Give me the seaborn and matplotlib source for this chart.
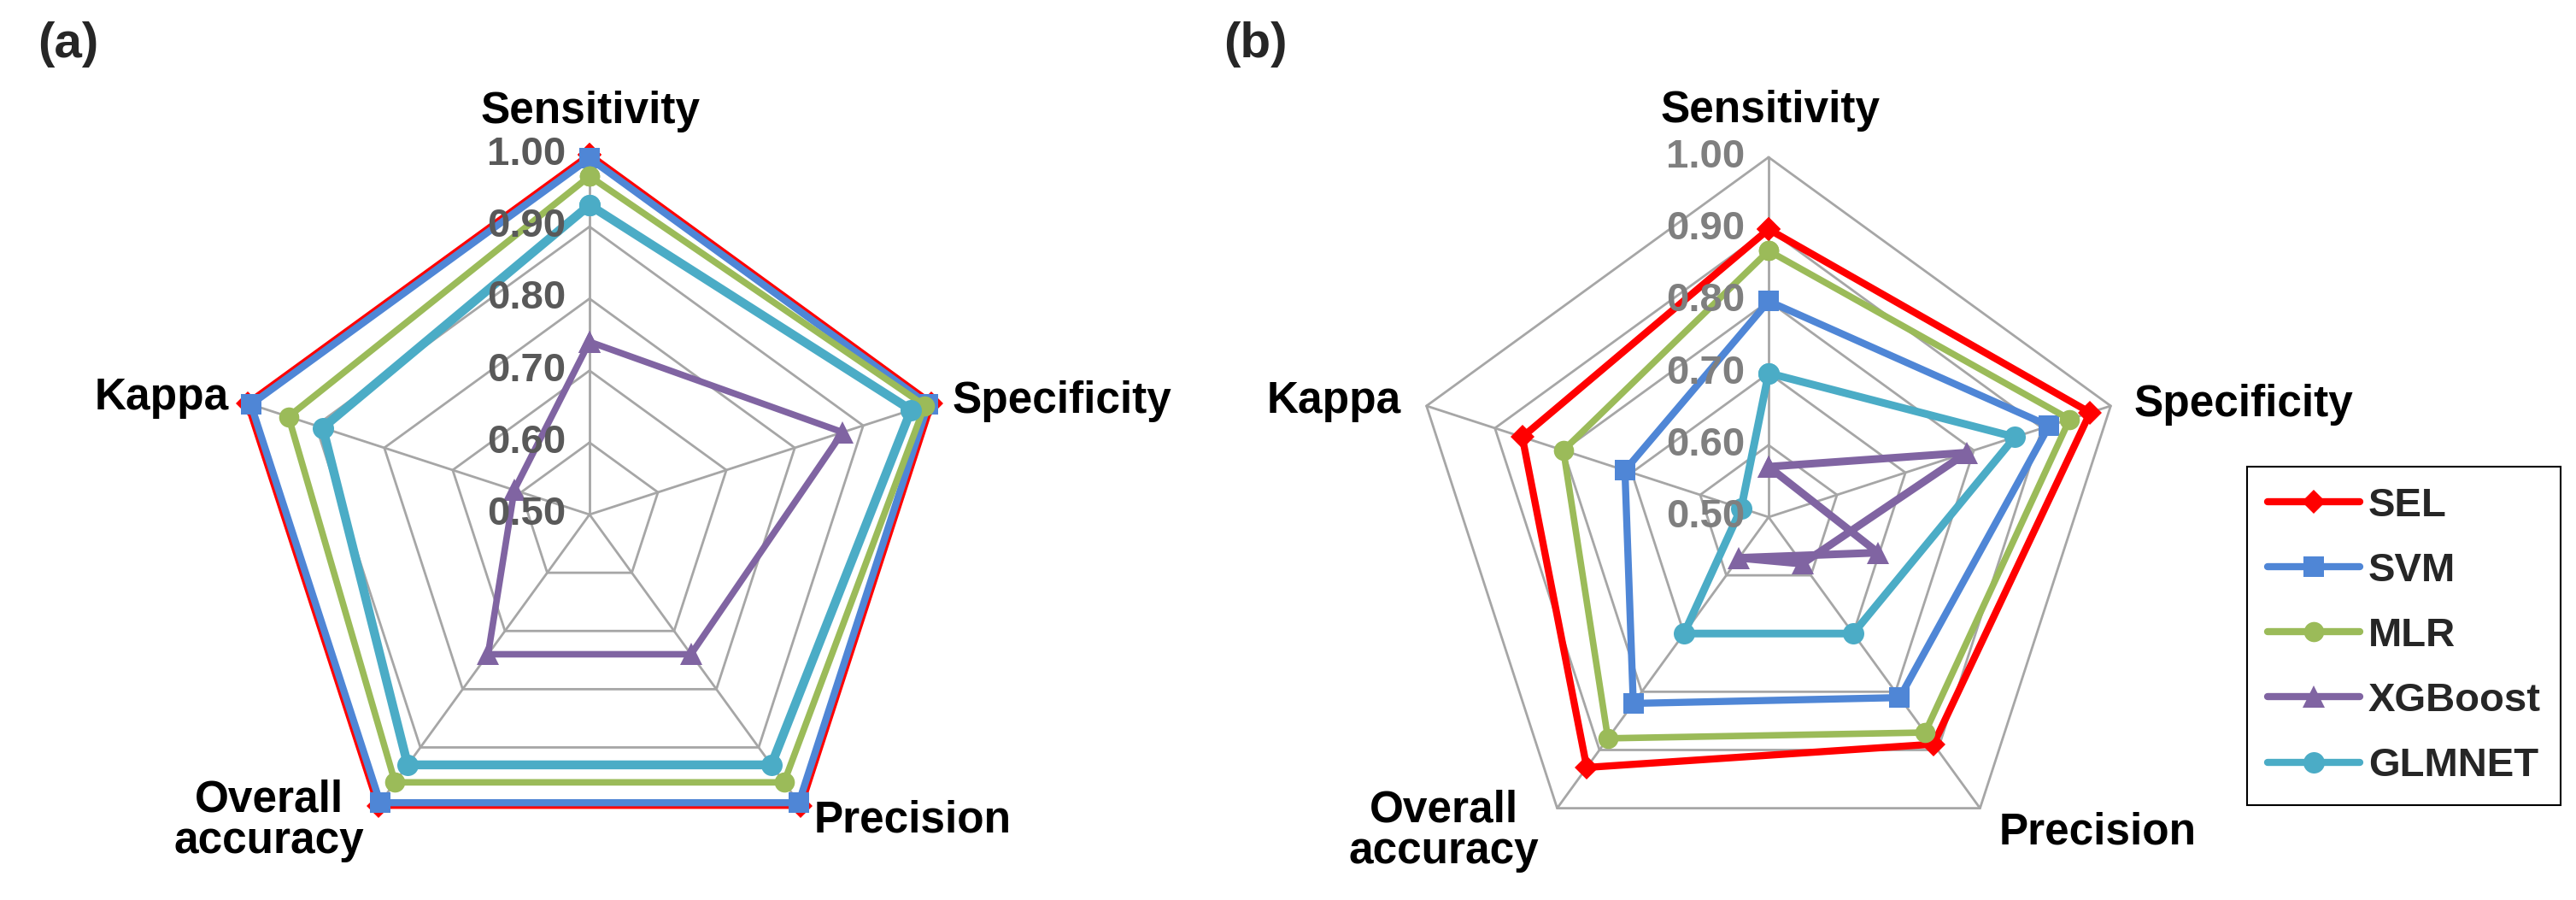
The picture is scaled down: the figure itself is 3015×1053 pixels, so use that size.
import numpy as np
import matplotlib
matplotlib.use("Agg")
import matplotlib.pyplot as plt
import seaborn as sns
from matplotlib.lines import Line2D

# ---------------- data ----------------
categories = ["Sensitivity", "Specificity", "Precision", "Overall\naccuracy", "Kappa"]
models = ["SEL", "SVM", "MLR", "XGBoost", "GLMNET"]
tick_values = [0.50, 0.60, 0.70, 0.80, 0.90, 1.00]
tick_labels = ["0.50", "0.60", "0.70", "0.80", "0.90", "1.00"]

# panel (a)  order: Sensitivity, Specificity, Precision, Overall accuracy, Kappa
a_SEL = [1.00, 1.00, 1.00, 1.00, 1.00]
a_SVM = [0.995, 0.995, 0.995, 0.995, 0.995]
a_MLR = [0.97, 0.99, 0.96, 0.96, 0.94]
a_XGB = [0.74, 0.87, 0.74, 0.74, 0.61]
a_GLM = [0.93, 0.97, 0.93, 0.93, 0.89]

# panel (b)
b_SEL = [0.90, 0.97, 0.89, 0.93, 0.86]
b_SVM = [0.80, 0.91, 0.81, 0.82, 0.71]
b_MLR = [0.87, 0.94, 0.87, 0.88, 0.80]
b_XGB = [0.57, 0.79, 0.58, 0.57, 0.34]
b_GLM = [0.70, 0.86, 0.70, 0.70, 0.54]

# ---------------- style ----------------
sns.set_theme(style="white")
plt.rcParams["font.family"] = ["Liberation Sans", "DejaVu Sans"]

colors = {"SEL": "#FF0000", "SVM": "#4F86D6", "MLR": "#9BBB59",
          "XGBoost": "#8064A2", "GLMNET": "#4BACC6"}
markers = {"SEL": "D", "SVM": "s", "MLR": "o", "XGBoost": "^", "GLMNET": "o"}
msizes = {"SEL": 14, "SVM": 17, "MLR": 17, "XGBoost": 19, "GLMNET": 18}
grid_color = "#A6A6A6"

W, H = 3015, 1053
fig = plt.figure(figsize=(W / 100, H / 100), dpi=100)
fig.patch.set_facecolor("white")
ax = fig.add_axes([0, 0, 1, 1])
ax.set_xlim(0, W)
ax.set_ylim(H, 0)
ax.axis("off")

R = 421.0
vmin, vmax = 0.5, 1.0
n = len(categories)
ang = np.deg2rad(np.arange(n) * 360.0 / n)  # clockwise from top


def to_xy(vals, cx, cy):
    r = (np.asarray(vals, float) - vmin) / (vmax - vmin) * R
    return cx + r * np.sin(ang), cy - r * np.cos(ang)


def radar(cx, cy, series, tick_color, lw_map, label_pos):
    # grid rings
    for v in tick_values[1:]:
        x, y = to_xy([v] * n, cx, cy)
        ax.plot(np.r_[x, x[0]], np.r_[y, y[0]], color=grid_color, lw=2.0, zorder=1)
    xo, yo = to_xy([vmax] * n, cx, cy)
    for i in range(n):
        ax.plot([cx, xo[i]], [cy, yo[i]], color=grid_color, lw=2.0, zorder=1)
    # series
    for k, (name, vals) in enumerate(zip(models, series)):
        x, y = to_xy(vals, cx, cy)
        sns.lineplot(x=np.r_[x, x[0]], y=np.r_[y, y[0]], sort=False, estimator=None,
                     color=colors[name], lw=lw_map[name], marker=markers[name],
                     markersize=msizes[name], markeredgewidth=0,
                     solid_joinstyle="round", zorder=2 + k, ax=ax)
    # tick labels along Sensitivity axis
    for v, t in zip(tick_values, tick_labels):
        ax.text(cx - 28, cy - (v - vmin) / (vmax - vmin) * R, t, ha="right", va="center",
                fontsize=34, fontweight="bold", color=tick_color, zorder=20)
    # category labels
    for cat, (px, py, ha, va) in zip(categories, label_pos):
        ax.text(px, py, cat, ha=ha, va=va, fontsize=37, fontweight="bold",
                color="black", linespacing=1.0, multialignment="center", zorder=20)


lw_a = {"SEL": 5.5, "SVM": 6.0, "MLR": 5.5, "XGBoost": 5.5, "GLMNET": 7.5}
lw_b = {"SEL": 6.0, "SVM": 6.0, "MLR": 5.5, "XGBoost": 6.5, "GLMNET": 6.5}

pos_a = [(691, 155, "center", "bottom"), (1115, 470, "left", "center"),
         (953, 960, "left", "center"), (315, 960, "center", "center"),
         (268, 466, "right", "center")]
pos_b = [(2072, 154, "center", "bottom"), (2498, 473, "left", "center"),
         (2340, 974, "left", "center"), (1690, 972, "center", "center"),
         (1640, 470, "right", "center")]

radar(690, 602, [a_SEL, a_SVM, a_MLR, a_XGB, a_GLM], "#595959", lw_a, pos_a)
radar(2070, 605, [b_SEL, b_SVM, b_MLR, b_XGB, b_GLM], "#7F7F7F", lw_b, pos_b)

ax.text(44, 52, "(a)", ha="left", va="center", fontsize=42, fontweight="bold")
ax.text(1432, 52, "(b)", ha="left", va="center", fontsize=42, fontweight="bold")

handles = [Line2D([0], [0], color=colors[m], lw=6.0, marker=markers[m],
                  markersize=msizes[m], markeredgewidth=0) for m in models]
leg = ax.legend(handles, models, loc="upper left", bbox_to_anchor=(2630, 546),
                bbox_transform=ax.transData, borderaxespad=0, frameon=True,
                fancybox=False, framealpha=1, edgecolor="black",
                prop={"weight": "bold", "size": 34}, handlelength=2.3,
                handletextpad=0.2, labelspacing=0.68, borderpad=0.5, numpoints=1)
leg.get_frame().set_linewidth(1.5)
leg.set_zorder(30)

fig.savefig("out.png", dpi=100, facecolor="white")
